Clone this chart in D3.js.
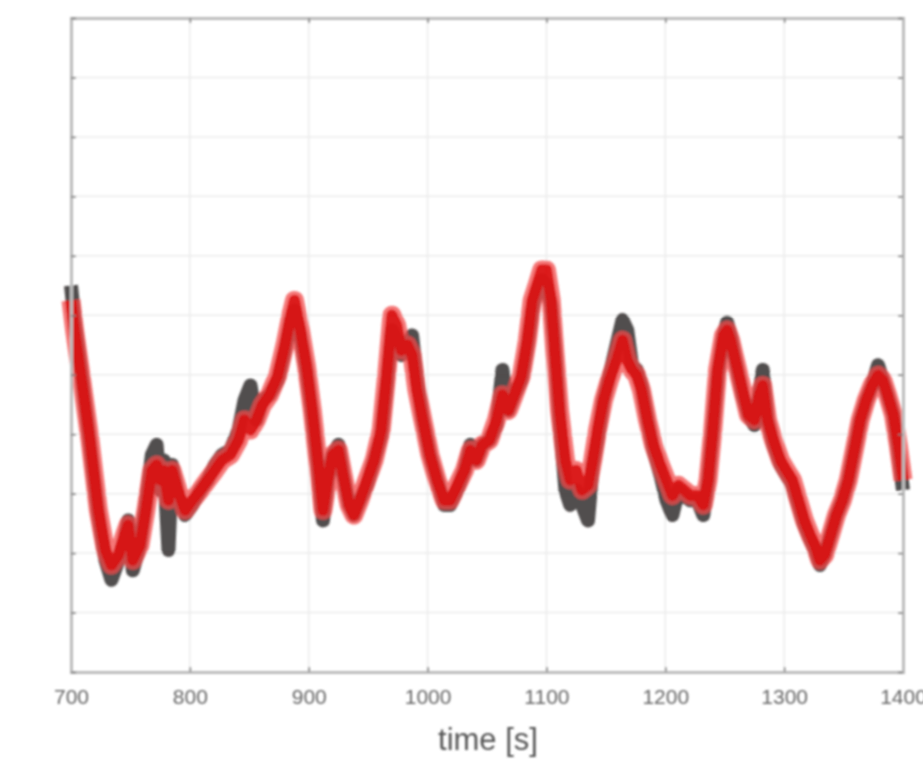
<!DOCTYPE html>
<html>
<head>
<meta charset="utf-8">
<script src="https://cdn.jsdelivr.net/npm/d3@7"></script>
<style>
  body { margin: 0; background: #fff; }
  svg { display: block; }
</style>
</head>
<body>
<svg id="chart"></svg>
<script>
// time samples [s]
const times = [700,703,709,716,723,729,734,740,745,748,752,758,763,768,772,775,778,782,785,790,
  796,802,809,815,821,827,834,841,846,851,856,861,867,874,880,885,888,893,898,903,
  908,912,916,920,925,929,934,938,943,949,955,961,966,970,974,978,983,987,991,996,
  1002,1008,1014,1019,1025,1031,1036,1041,1046,1052,1058,1063,1068,1073,1079,1084,1088,1092,1096,1100,
  1104,1107,1111,1116,1120,1125,1130,1135,1139,1143,1148,1153,1159,1164,1168,1172,1176,1180,1185,1190,
  1196,1201,1206,1211,1216,1221,1227,1232,1236,1240,1244,1249,1252,1255,1259,1265,1270,1275,1279,1282,
  1286,1291,1297,1302,1307,1312,1317,1322,1326,1330,1334,1339,1344,1349,1354,1359,1364,1369,1374,1379,
  1383,1387,1392,1396,1400];

// red ensemble
const redVals = [6.25,5.75,4.91,3.90,2.72,2.05,1.80,1.97,2.30,2.47,1.88,2.13,2.72,3.39,3.48,3.23,3.39,2.89,3.39,3.06,
  2.72,2.89,3.06,3.23,3.39,3.56,3.65,3.90,4.24,4.07,4.24,4.49,4.66,4.99,5.50,6.00,6.25,5.75,5.16,4.40,
  3.48,2.72,3.23,3.65,3.73,3.31,2.81,2.64,2.89,3.23,3.56,4.07,5.08,6.00,5.83,5.41,5.50,5.33,4.74,4.24,
  3.65,3.23,2.89,2.89,3.14,3.39,3.73,3.56,3.82,3.90,4.24,4.66,4.40,4.66,4.99,5.58,6.25,6.50,6.76,6.76,
  6.25,5.41,4.40,3.56,3.23,3.39,3.06,3.14,3.56,4.07,4.57,4.91,5.24,5.58,5.24,5.08,4.99,4.74,4.24,3.82,
  3.48,3.23,2.97,3.14,3.06,2.97,2.97,2.81,3.23,4.07,5.08,5.66,5.75,5.58,5.24,4.74,4.32,4.24,4.66,4.82,
  4.24,3.90,3.56,3.39,3.23,2.89,2.55,2.30,2.13,1.88,1.97,2.30,2.64,2.89,3.23,3.73,4.24,4.57,4.82,4.99,
  4.91,4.66,4.32,3.82,3.23];

// black ensemble
const blackVals = [6.50,5.92,4.99,3.82,2.64,1.88,1.55,1.88,2.22,2.55,1.71,2.13,2.81,3.65,3.82,3.06,3.56,2.05,3.48,2.97,
  2.64,2.81,3.06,3.23,3.48,3.65,3.73,4.07,4.57,4.82,4.24,4.57,4.66,4.91,5.41,5.92,6.08,5.66,5.08,4.32,
  3.39,2.55,3.23,3.65,3.82,3.31,2.81,2.64,2.89,3.14,3.56,3.98,4.91,5.75,5.58,5.33,5.50,5.66,4.91,4.24,
  3.65,3.23,2.81,2.81,3.06,3.39,3.82,3.56,3.82,3.90,4.15,5.08,4.40,4.66,4.91,5.50,6.08,6.42,6.59,6.50,
  6.17,5.50,4.24,3.06,2.81,3.06,2.81,2.55,3.48,3.90,4.57,4.99,5.50,5.92,5.75,5.16,5.08,4.82,4.24,3.73,
  3.31,2.89,2.64,3.06,2.97,2.89,2.89,2.64,3.23,4.07,4.99,5.66,5.88,5.66,5.24,4.66,4.32,4.15,4.66,5.08,
  4.24,3.82,3.48,3.31,3.14,2.81,2.47,2.22,2.05,1.80,1.97,2.30,2.64,2.89,3.23,3.73,4.24,4.57,4.82,5.16,
  4.91,4.66,4.32,3.73,3.06];

const xTicks = [700, 800, 900, 1000, 1100, 1200, 1300, 1400];
const yTicks = [0, 1, 2, 3, 4, 5, 6, 7, 8, 9, 10, 11];

const margin = { top: 18, right: 20, bottom: 89, left: 71 },
      width = 923 - margin.left - margin.right,
      height = 761 - margin.top - margin.bottom;

const svg = d3.select("#chart")
    .attr("width", 923)
    .attr("height", 761);

// the reference is soft, so blur everything a little
const defs = svg.append("defs");
defs.append("filter").attr("id", "soft")
    .attr("x", "-5%").attr("y", "-5%").attr("width", "110%").attr("height", "110%")
  .append("feGaussianBlur").attr("stdDeviation", 1.1);

const root = svg.append("g").attr("filter", "url(#soft)");
const g = root.append("g")
    .attr("transform", `translate(${margin.left},${margin.top})`);

const x = d3.scaleLinear().domain([700, 1400]).range([0, 832]);
const y = d3.scaleLinear().domain([0, 11]).range([height, 0]);

// grid
g.append("g")
  .selectAll("line").data(xTicks.slice(1, -1)).enter().append("line")
    .attr("x1", d => x(d)).attr("x2", d => x(d))
    .attr("y1", 0).attr("y2", height)
    .attr("stroke", "#ebebeb").attr("stroke-width", 1.5);
g.append("g")
  .selectAll("line").data(yTicks.slice(1, -1)).enter().append("line")
    .attr("x1", 0).attr("x2", x(1400))
    .attr("y1", d => y(d)).attr("y2", d => y(d))
    .attr("stroke", "#ebebeb").attr("stroke-width", 1.5);

// traces
const line = d3.line()
    .x((d, i) => x(times[i]))
    .y(d => y(d));

g.append("path").datum(blackVals)
    .attr("d", line)
    .attr("fill", "none")
    .attr("stroke", "#3a3434")
    .attr("stroke-opacity", 0.88)
    .attr("stroke-width", 14)
    .attr("stroke-linejoin", "round");

g.append("path").datum(redVals)
    .attr("d", line)
    .attr("fill", "none")
    .attr("stroke", "#f24a4a")
    .attr("stroke-opacity", 0.75)
    .attr("stroke-width", 19)
    .attr("stroke-linejoin", "round");

g.append("path").datum(redVals)
    .attr("d", line)
    .attr("fill", "none")
    .attr("stroke", "#d81212")
    .attr("stroke-opacity", 0.9)
    .attr("stroke-width", 11)
    .attr("stroke-linejoin", "round");

// axes (box with inward ticks)
const axisColor = "#bcbcbc";
const xAxis = g.append("g")
    .attr("transform", `translate(0,${height})`)
    .call(d3.axisBottom(x).tickValues(xTicks).tickSize(-5).tickPadding(17).tickFormat(d3.format("d")));
const xTop = g.append("g")
    .call(d3.axisTop(x).tickValues(xTicks).tickSize(-5).tickFormat(""));
const yLeft = g.append("g")
    .call(d3.axisLeft(y).tickValues(yTicks).tickSize(-5).tickFormat(""));
const yRight = g.append("g")
    .attr("transform", `translate(${x(1400)},0)`)
    .call(d3.axisRight(y).tickValues(yTicks).tickSize(-5).tickFormat(""));

[xAxis, xTop, yLeft, yRight].forEach(a => {
  a.select(".domain").attr("stroke", axisColor).attr("stroke-width", 3);
  a.selectAll(".tick line").attr("stroke", "#7a7a7a").attr("stroke-width", 1.5);
});

xAxis.selectAll("text")
    .style("font-family", "Liberation Sans, Arial, sans-serif")
    .style("font-size", "21px")
    .style("fill", "#666");

g.append("text")
    .attr("x", 488 - margin.left)
    .attr("y", height + 78)
    .attr("text-anchor", "middle")
    .style("font-family", "Liberation Sans, Arial, sans-serif")
    .style("font-size", "31px")
    .style("fill", "#555")
    .text("time [s]");
</script>
</body>
</html>
